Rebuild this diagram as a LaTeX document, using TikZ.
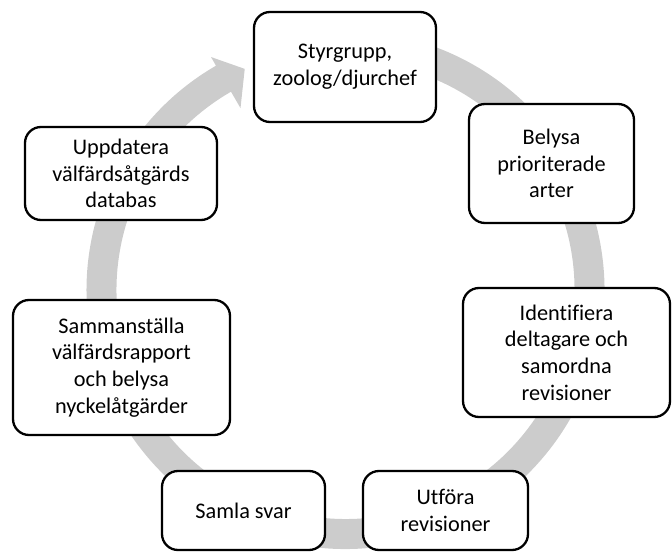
\documentclass[tikz,border=0pt]{standalone}
\usepackage{fontspec}
\setmainfont[Ligatures=NoCommon]{Carlito}
\usetikzlibrary{calc}
\begin{document}
\begin{tikzpicture}[x=1pt,y=1pt,
  stage/.style={draw=black, fill=white, line width=2.3pt, rounded corners=16pt,
    align=center, inner sep=0pt, font=\fontsize{22.3}{26.7}\selectfont},
  ring/.style={fill=black!20, draw=none}]
\useasboundingbox (0,0) rectangle (672,552);
\coordinate (c) at (345.5,262);
% circular arrow
\path[ring] ($(c)+(100:259pt)$) arc[start angle=100, end angle=-240, radius=259pt]
  -- ($(c)+(120:269pt)$) -- ($(c)+(114.5:243pt)$) -- ($(c)+(120:210pt)$)
  -- ($(c)+(120:229pt)$) arc[start angle=-240, end angle=100, radius=229pt] -- cycle;
% boxes
\node[stage, minimum width=182pt, minimum height=110pt] (b1) at (345,485) {Styrgrupp,\\zoolog/djurchef};
\node[stage, minimum width=165pt, minimum height=119pt] (b2) at (551.5,388.5) {Belysa\\prioriterade\\arter};
\node[stage, minimum width=207pt, minimum height=129pt] (b3) at (566.5,199.5) {Identifiera\\deltagare och\\samordna\\revisioner};
\node[stage, minimum width=165pt, minimum height=79pt] (b4) at (445.5,41.5) {Utföra\\revisioner};
\node[stage, minimum width=163pt, minimum height=79pt] (b5) at (243.5,41.5) {Samla svar};
\node[stage, minimum width=217pt, minimum height=135pt] (b6) at (121.5,184.5) {Sammanställa\\välfärdsrapport\\och belysa\\nyckelåtgärder};
\node[stage, minimum width=192pt, minimum height=93pt] (b7) at (121,378.5) {Uppdatera\\välfärdsåtgärds\\databas};
\end{tikzpicture}
\end{document}
